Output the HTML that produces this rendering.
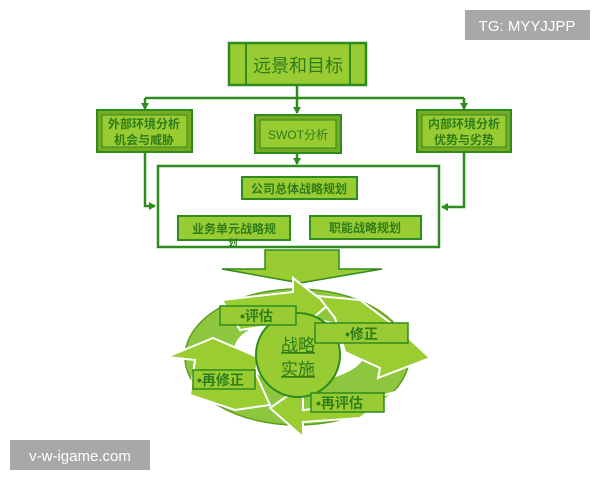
<!DOCTYPE html>
<html><head><meta charset="utf-8"><style>
html,body{margin:0;padding:0;background:#fff;}
svg{display:block;font-family:"Liberation Sans","Noto Sans CJK SC",sans-serif;}
</style></head><body>
<svg width="600" height="480" viewBox="0 0 600 480" xmlns="http://www.w3.org/2000/svg">
<defs>
<marker id="ah" markerWidth="8" markerHeight="8" refX="6" refY="4" orient="auto" markerUnits="userSpaceOnUse">
<path d="M0,0 L7,4 L0,8 Z" fill="#2e8b1e"/></marker>
</defs>
<rect width="600" height="480" fill="#fff"/>
<g stroke="#2e8b1e" stroke-width="2.5" fill="none">
<line x1="297" y1="85" x2="297" y2="98"/>
<line x1="145" y1="98" x2="464" y2="98"/>
<line x1="145" y1="98" x2="145" y2="109" marker-end="url(#ah)"/>
<line x1="297" y1="98" x2="297" y2="113" marker-end="url(#ah)"/>
<line x1="464" y1="98" x2="464" y2="109" marker-end="url(#ah)"/>
<line x1="297" y1="153" x2="297" y2="164" marker-end="url(#ah)"/>
<polyline points="145,152 145,206 155,206" marker-end="url(#ah)"/>
<polyline points="464,152 464,207 442,207" marker-end="url(#ah)"/>
<rect x="158" y="166" width="281" height="81"/>
</g>
<rect x="229" y="43" width="137" height="42" fill="#99cc33" stroke="#2e8b1e" stroke-width="2.5"/>
<line x1="246" y1="43" x2="246" y2="85" stroke="#2e8b1e" stroke-width="2"/>
<line x1="350" y1="43" x2="350" y2="85" stroke="#2e8b1e" stroke-width="2"/>
<text x="298" y="72" text-anchor="middle" font-size="18" fill="#2e7d1a">远景和目标</text>
<g stroke="#2e8b1e" stroke-width="2">
<rect x="97" y="110" width="95" height="42" fill="#77aa22"/>
<rect x="102" y="115" width="85" height="32" fill="#99cc33" stroke-width="1"/>
<rect x="255" y="115" width="86" height="38" fill="#77aa22"/>
<rect x="260" y="120" width="76" height="28" fill="#99cc33" stroke-width="1"/>
<rect x="417" y="110" width="94" height="42" fill="#77aa22"/>
<rect x="422" y="115" width="84" height="32" fill="#99cc33" stroke-width="1"/>
<rect x="242" y="177" width="115" height="22" fill="#99cc33"/>
<rect x="178" y="216" width="112" height="24" fill="#99cc33"/>
<rect x="310" y="216" width="111" height="23" fill="#99cc33"/>
</g>
<g font-size="12" font-weight="bold" fill="#2e7d1a" text-anchor="middle">
<text x="144" y="128">外部环境分析</text>
<text x="144" y="144">机会与威胁</text>
<text x="298" y="139" font-weight="normal">SWOT分析</text>
<text x="464" y="128">内部环境分析</text>
<text x="464" y="144">优势与劣势</text>
<text x="299" y="193">公司总体战略规划</text>
<text x="234" y="233">业务单元战略规</text>
<text x="365" y="232">职能战略规划</text>
<text x="233" y="246" font-size="9">划</text>
</g>
<polygon points="265,250 339,250 339,269 382,269 300,283 222,269 265,269" fill="#99cc33" stroke="#2e8b1e" stroke-width="1.5"/>
<!-- ring -->
<ellipse cx="297" cy="357" rx="112" ry="68" fill="#8dc63f" stroke="#5f9e1e" stroke-width="1.5"/>
<ellipse cx="300" cy="350" rx="66" ry="32" fill="#ffffff"/>
<g fill="#9acd32" stroke="#ffffff" stroke-width="2" stroke-linejoin="miter">
<!-- top arrow -->
<polygon points="222,300 293,292 293,278 328,305 293,335 293,322 240,330"/>
<!-- right arrow -->
<polygon points="318,296 360,300 400,330 430,358 378,378 380,368 345,352 335,318"/>
<!-- bottom arrow -->
<polygon points="395,392 350,405 303,410 303,385 270,408 303,437 303,422 360,418"/>
<!-- left arrow -->
<polygon points="190,395 235,410 270,405 255,372 260,358 213,338 167,357 195,360"/>
</g>
<circle cx="298" cy="355" r="42" fill="#99cc33" stroke="#2e8b1e" stroke-width="2"/>
<text x="298" y="351" text-anchor="middle" font-size="17" fill="#2e7d1a" text-decoration="underline">战略</text>
<text x="298" y="375" text-anchor="middle" font-size="17" fill="#2e7d1a" text-decoration="underline">实施</text>
<g stroke="#2e8b1e" stroke-width="1.5" fill="#99cc33">
<rect x="220" y="306" width="76" height="19"/>
<rect x="315" y="323" width="93" height="20"/>
<rect x="193" y="370" width="62" height="19"/>
<rect x="311" y="393" width="73" height="19"/>
</g>
<g font-size="14" font-weight="bold" fill="#2e7d1a">
<text x="240" y="321">•评估</text>
<text x="345" y="339">•修正</text>
<text x="197" y="385">•再修正</text>
<text x="316" y="408">•再评估</text>
</g>
<rect x="465" y="10" width="125" height="30" fill="#a8a8a8"/>
<text x="527" y="31" text-anchor="middle" font-size="15" fill="#fff">TG: MYYJJPP</text>
<rect x="10" y="440" width="140" height="30" fill="#a8a8a8"/>
<text x="80" y="461" text-anchor="middle" font-size="15" fill="#fff">v-w-igame.com</text>
</svg>
</body></html>
